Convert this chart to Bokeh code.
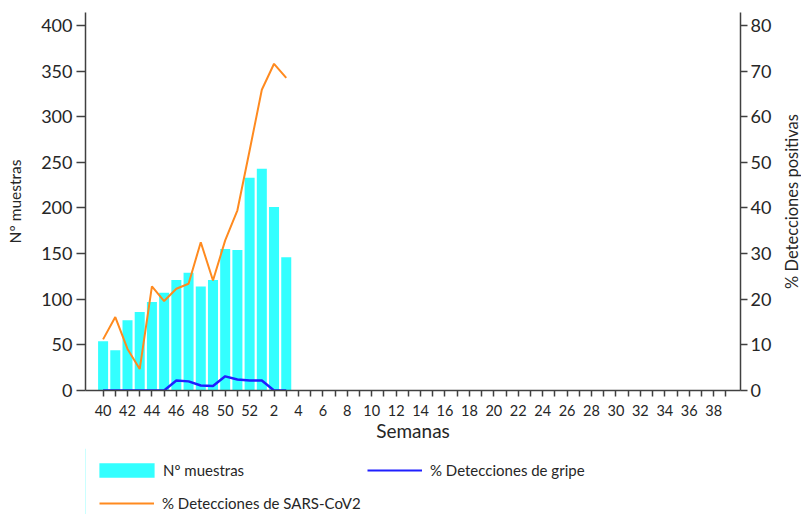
import math
from bokeh.plotting import figure
from bokeh.layouts import column, row
from bokeh.models import (Range1d, LinearAxis, FixedTicker, Legend, LegendItem,
                          ColumnDataSource, Label)
from bokeh.embed import file_html
from bokeh.resources import INLINE

# ---- data ----
weeks = list(range(40, 53)) + list(range(1, 40))
data_weeks = [40, 41, 42, 43, 44, 45, 46, 47, 48, 49, 50, 51, 52, 1, 2, 3]
muestras = [54, 44, 77, 86, 97, 107, 121, 129, 114, 121, 155, 154, 233, 243, 201, 146]
sars = [11.2, 16.1, 9.1, 4.7, 22.8, 19.6, 22.3, 23.4, 32.5, 24.1, 32.9, 39.5, 52.6, 65.9, 71.6, 68.5]
gripe = [0, 0, 0, 0, 0, 0, 2.2, 2.0, 1.1, 1.0, 3.1, 2.4, 2.2, 2.2, 0, 0]
left_ticks = [0, 50, 100, 150, 200, 250, 300, 350, 400]
right_ticks = [0, 10, 20, 30, 40, 50, 60, 70, 80]

FONT = "Lato"
TXT = "#262626"
AX = "#404040"
CYAN = "#33FFFF"
BLUE = "#1F1FFF"
ORANGE = "#FF8A1F"

idx = [weeks.index(w) for w in data_weeks]
src = ColumnDataSource(dict(x=idx, muestras=muestras, sars=sars, gripe=gripe))

p = figure(width=780, height=448, output_backend="svg", toolbar_location=None,
           x_range=Range1d(-1.44, 52.2), y_range=Range1d(0, 414.2),
           min_border_left=85, min_border_right=40, min_border_top=12,
           min_border_bottom=58)
p.extra_y_ranges = {"pct": Range1d(0, 82.84)}
p.outline_line_color = None
p.grid.visible = False

bars = p.vbar(x="x", top="muestras", width=0.82, source=src,
              fill_color=CYAN, line_color=None)
lg = p.line(x="x", y="gripe", source=src, y_range_name="pct",
            line_color=BLUE, line_width=2.5)
ls = p.line(x="x", y="sars", source=src, y_range_name="pct",
            line_color=ORANGE, line_width=2)

# axes
xa = p.xaxis[0]
xa.ticker = FixedTicker(ticks=list(range(len(weeks))))
xa.major_label_overrides = {i: (str(w) if w % 2 == 0 else "") for i, w in enumerate(weeks)}
xa.axis_label = "Semanas"
xa.major_tick_out = 6
xa.major_label_standoff = 8
xa.axis_label_standoff = 0

ya = p.yaxis[0]
ya.ticker = FixedTicker(ticks=left_ticks)
ya.axis_label = "Nº muestras"
ya.major_tick_out = 9
ya.major_label_standoff = 4
ya.axis_label_standoff = 14

ra = LinearAxis(y_range_name="pct", ticker=FixedTicker(ticks=right_ticks))
ra.major_tick_out = 7
ra.major_label_standoff = 3
p.add_layout(ra, "right")

for a in [xa, ya, ra]:
    a.minor_tick_line_color = None
    a.major_tick_in = 0
    a.axis_line_color = AX
    a.axis_line_width = 1.5
    a.major_tick_line_color = AX
    a.major_tick_line_width = 1.5
    a.major_label_text_font = FONT
    a.major_label_text_font_size = "18px"
    a.major_label_text_color = TXT
    a.axis_label_text_font = FONT
    a.axis_label_text_font_style = "normal"
    a.axis_label_text_color = TXT
xa.major_label_text_font_size = "14.5px"
xa.axis_label_text_font_size = "19px"
ya.axis_label_text_font_size = "15.5px"

# ---- right axis title (narrow strip, reads bottom-to-top) ----
p3 = figure(width=21, height=448, output_backend="svg", toolbar_location=None,
            x_range=Range1d(0, 1), y_range=Range1d(0, 1),
            x_axis_location=None, y_axis_location=None,
            min_border_left=0, min_border_right=0,
            min_border_top=12, min_border_bottom=58)
p3.outline_line_color = None
p3.grid.visible = False
p3.add_layout(Label(x=0.55, y=0.5, text="% Detecciones positivas",
                    angle=math.pi / 2, text_align="center",
                    text_baseline="middle", text_font=FONT,
                    text_font_size="16.5px", text_color=TXT))

# ---- legend strip (separate figure below; frame aligned with main frame at x=85) ----
p2 = figure(width=801, height=66, output_backend="svg", toolbar_location=None,
            x_range=Range1d(0, 1), y_range=Range1d(0, 1),
            x_axis_location=None, y_axis_location=None,
            min_border_left=85, min_border_right=61,
            min_border_top=0, min_border_bottom=0)
p2.outline_line_color = None
p2.grid.visible = False
d_bar = p2.vbar(x=[-500], top=[1], width=1, fill_color=CYAN, line_color=None)
d_sars = p2.line(x=[-500, -400], y=[1, 1], line_color=ORANGE, line_width=2)
d_gripe = p2.line(x=[-500, -400], y=[1, 1], line_color=BLUE, line_width=2)


def mk_legend(label, r, loc, gw, gh, standoff):
    L = Legend(items=[LegendItem(label=label, renderers=[r])], location=loc,
               orientation="vertical", glyph_width=gw, glyph_height=gh,
               label_standoff=standoff, spacing=0, padding=0, margin=0,
               label_height=22, border_line_color=None,
               background_fill_alpha=0, label_text_font=FONT,
               label_text_font_size="15px", label_text_color=TXT)
    p2.add_layout(L, "center")


mk_legend("Nº muestras", d_bar, (7, 33), 69, 18, 2)
mk_legend("% Detecciones de SARS-CoV2", d_sars, (14, 0), 55, 18, 8)
mk_legend("% Detecciones de gripe", d_gripe, (282, 33), 55, 18, 8)

layout = column(row(p, p3, spacing=0), p2, spacing=0)
open("out.html", "w").write(file_html(layout, INLINE))
